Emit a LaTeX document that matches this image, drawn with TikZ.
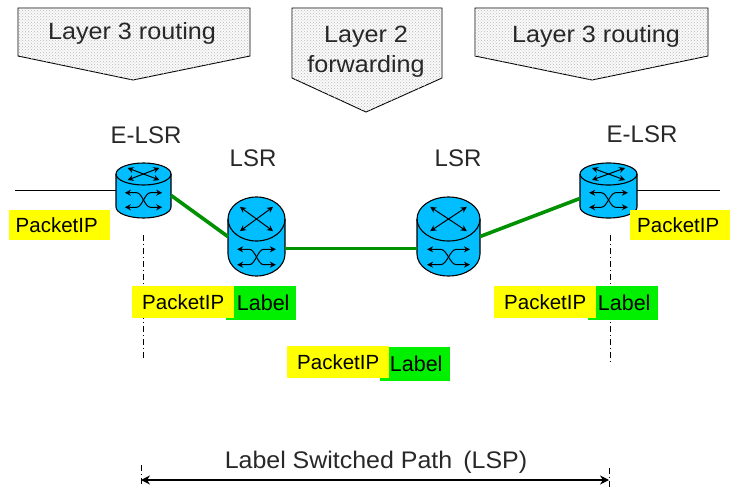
\documentclass[tikz,border=0pt]{standalone}
\usepackage{fontspec}
\setmainfont{Liberation Sans}
\usetikzlibrary{patterns,arrows.meta,calc}
\definecolor{routercyan}{RGB}{0,190,255}
\definecolor{pktyellow}{RGB}{255,255,0}
\definecolor{pktgreen}{RGB}{0,240,0}
\definecolor{linkgreen}{RGB}{0,145,0}
\definecolor{inkgrey}{RGB}{40,40,40}
\tikzset{
  banner/.style={draw=black,line width=0.9pt,fill=gray!4,postaction={pattern=crosshatch dots,pattern color=gray!55}},
  bannertext/.style={font=\fontsize{23.5}{30}\selectfont,text=inkgrey,align=center,inner sep=0pt,xscale=1.07,transform shape},
  routertext/.style={font=\fontsize{24}{28}\selectfont,text=inkgrey,inner sep=0pt},
  pkt/.style={fill=pktyellow,inner sep=0pt,anchor=north west,minimum width=102pt,minimum height=32pt,font=\fontsize{20.5}{24}\selectfont,text=black},
  lbl/.style={fill=pktgreen,inner sep=0pt,anchor=north west,minimum width=70pt,minimum height=34pt,font=\fontsize{21.5}{24}\selectfont,text=black},
  link/.style={draw=linkgreen,line width=3.6pt},
  wire/.style={draw=black,line width=0.9pt},
  axis/.style={draw=black,line width=0.9pt,dash pattern=on 6pt off 3pt on 1pt off 3pt},
  rbody/.style={draw=black,line width=1.1pt,fill=routercyan},
  rarrow/.style={draw=black,line width=1pt,{Stealth[length=6pt,width=6pt]}-{Stealth[length=6pt,width=6pt]}},
  span/.style={draw=black,line width=1.3pt,{Stealth[length=9pt,width=9pt]}-{Stealth[length=9pt,width=9pt]}}
}
% name, cx, cy, width, height, ellipse ry
\newcommand{\routerbox}[6]{%
  \node[minimum width=#4pt,minimum height=#5pt,inner sep=0pt] (#1) at (#2,#3) {};
  \begin{scope}[shift={(#2,#3)},yscale=-1]
    \pgfmathsetmacro{\ra}{#4/2}
    \pgfmathsetmacro{\rT}{#5/2-#6}
    \pgfmathsetmacro{\rB}{-#5/2+#6}
    \pgfmathsetmacro{\rL}{(-#5/2+(\rT-#6))/2+1.5}
    \pgfmathsetmacro{\rd}{0.22*(#5-2*#6)}
    \path[rbody] (-\ra,\rT) arc[start angle=180,end angle=0,x radius=\ra,y radius=#6]
       -- (\ra,\rB) arc[start angle=0,end angle=-180,x radius=\ra,y radius=#6] -- cycle;
    \draw[draw=black,line width=1.1pt] (-\ra,\rT) arc[start angle=180,end angle=360,x radius=\ra,y radius=#6];
    \draw[rarrow] ({-.58*\ra},{\rT+.55*#6}) -- ({.58*\ra},{\rT-.55*#6});
    \draw[rarrow] ({-.58*\ra},{\rT-.55*#6}) -- ({.58*\ra},{\rT+.55*#6});
    \draw[rarrow] ({-.68*\ra},{\rL+\rd}) -- ({-.25*\ra},{\rL+\rd}) .. controls ({-.05*\ra},{\rL+\rd}) and ({.05*\ra},{\rL-\rd}) .. ({.25*\ra},{\rL-\rd}) -- ({.68*\ra},{\rL-\rd});
    \draw[rarrow] ({-.68*\ra},{\rL-\rd}) -- ({-.25*\ra},{\rL-\rd}) .. controls ({-.05*\ra},{\rL-\rd}) and ({.05*\ra},{\rL+\rd}) .. ({.25*\ra},{\rL+\rd}) -- ({.68*\ra},{\rL+\rd});
  \end{scope}
}
\begin{document}
\begin{tikzpicture}[x=1pt,y=-1pt]
\useasboundingbox (0,0) rectangle (735,489);
% banners
\path[banner] (18,8) -- (250,8) -- (250,56) -- (133,80) -- (18,56) -- cycle;
\path[banner] (292,8) -- (442,8) -- (442,78) -- (366,112) -- (292,78) -- cycle;
\path[banner] (475,8) -- (708,8) -- (708,56) -- (592,80) -- (475,56) -- cycle;
\node[bannertext] (b1) at (132,33) {Layer 3 routing};
\node[bannertext] (b2) at (366,52) {Layer 2\\forwarding};
\node[bannertext] (b3) at (596,36) {Layer 3 routing};
% router labels
\node[routertext] (t1) at (146,135) {E-LSR};
\node[routertext] (t2) at (253,158) {LSR};
\node[routertext] (t3) at (458,158) {LSR};
\node[routertext] (t4) at (642,134) {E-LSR};
% vertical guides
\coordinate (g1a) at (143,235); \coordinate (g1b) at (143,360);
\coordinate (g2a) at (610,235); \coordinate (g2b) at (610,365);
\draw[axis] (g1a) -- (g1b);
\draw[axis] (g2a) -- (g2b);
% routers
\routerbox{r1}{143.5}{190.5}{55}{55}{11}
\routerbox{r2}{256.5}{236.5}{57}{79}{22}
\routerbox{r3}{448.5}{236.5}{63}{79}{22}
\routerbox{r4}{608.5}{190.5}{57}{55}{11}
% outside wires
\coordinate (w1) at (15,190.5); \coordinate (w2) at (720,190.5);
\draw[wire] (w1) -- (r1.west);
\draw[wire] (r4.east) -- (w2);
% links
\draw[link] ([yshift=-5pt]r1.east) -- (r2.west);
\draw[link] ([yshift=-12pt]r2.east) -- ([yshift=-12pt]r3.west);
\draw[link] (r3.east) -- ([yshift=-8pt]r4.west);
% packets
\node[pkt,minimum width=101pt,minimum height=30pt] (p1) at (9,210) {\hspace{-6pt}PacketIP};
\node[lbl] (l2) at (226,286) {\hspace{4pt}Label};
\node[pkt] (p2) at (132,286) {PacketIP};
\node[lbl] (l3) at (380,347) {\hspace{2pt}Label};
\node[pkt] (p3) at (287,346) {PacketIP};
\node[lbl] (l4) at (588,286) {\hspace{2pt}Label};
\node[pkt] (p4) at (494,286) {PacketIP};
\node[pkt,minimum width=100pt,minimum height=30pt] (p5) at (630,210) {\hspace{-4pt}PacketIP};
% LSP span
\coordinate (s1a) at (141,465); \coordinate (s1b) at (141,487);
\coordinate (s2a) at (609,468); \coordinate (s2b) at (609,487);
\draw[axis] (s1a) -- (s1b);
\draw[axis] (s2a) -- (s2b);
\coordinate (a1) at (141,480); \coordinate (a2) at (609,480);
\draw[span] (a1) -- (a2);
\node[font=\fontsize{24}{28}\selectfont,text=inkgrey,inner sep=0pt,xscale=1.04,transform shape] (lsp) at (376,462) {Label Switched Path\, (LSP)};
\end{tikzpicture}
\end{document}
